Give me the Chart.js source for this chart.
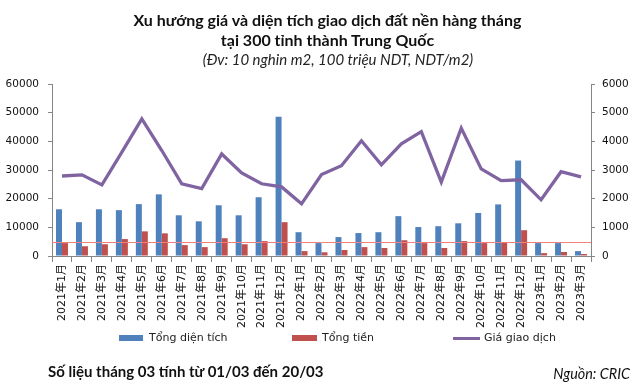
<!DOCTYPE html>
<html>
<head>
<meta charset="utf-8">
<script src="https://cdn.jsdelivr.net/npm/chart.js@4.4.1/dist/chart.umd.min.js"></script>
<style>
  html, body { margin: 0; padding: 0; background: #fff; }
  #wrap { position: relative; width: 643px; height: 386px; overflow: hidden; }
  canvas { position: absolute; left: 0; top: 0; }
  .txt { position: absolute; white-space: nowrap; color: #111; }
  .title { left: 0; width: 655px; text-align: center; font: bold 16px Lato, sans-serif; }
  .sub { left: 0; width: 676px; text-align: center; top: 50px; font: italic 15px Lato, sans-serif; color: #222; }
  .leg { position: absolute; top: 331px; font: 11px "DejaVu Sans", sans-serif; color: #222; }
  .leg i { position: absolute; top: 4px; }
</style>
</head>
<body>
<div id="wrap">
  <canvas id="c" width="643" height="386"></canvas>
  <div class="txt title" style="top:10px">Xu hướng giá và diện tích giao dịch đất nền hàng tháng</div>
  <div class="txt title" style="top:30px">tại 300 tỉnh thành Trung Quốc</div>
  <div class="txt sub">(Đv: 10 nghin m2, 100 triệu NDT, NDT/m2)</div>

  <div class="leg" style="left:119px"><i style="left:0;width:24px;height:6px;background:#4F81BD"></i><span style="margin-left:30px">Tổng diện tích</span></div>
  <div class="leg" style="left:292px"><i style="left:0;width:25px;height:6px;background:#C0504D"></i><span style="margin-left:30px">Tổng tiền</span></div>
  <div class="leg" style="left:453px"><i style="left:0;top:6px;width:27px;height:3px;background:#8064A2"></i><span style="margin-left:31px">Giá giao dịch</span></div>

  <div class="txt" style="left:48px;top:362px;font:bold 15px Lato, sans-serif">Số liệu tháng 03 tính từ 01/03 đến 20/03</div>
  <div class="txt" style="right:13px;top:365px;font:italic 14.4px Lato, sans-serif">Nguồn: CRIC</div>
</div>
<script>
const months = [
  '2021年1月','2021年2月','2021年3月','2021年4月','2021年5月','2021年6月',
  '2021年7月','2021年8月','2021年9月','2021年10月','2021年11月','2021年12月',
  '2022年1月','2022年2月','2022年3月','2022年4月','2022年5月','2022年6月',
  '2022年7月','2022年8月','2022年9月','2022年10月','2022年11月','2022年12月',
  '2023年1月','2023年2月','2023年3月'
];
// Tổng diện tích (10 nghìn m2)
const totalArea = [16300, 11800, 16300, 16000, 18100, 21500, 14200, 12100, 17700, 14200, 20500, 48600,
  8300, 4500, 6600, 8000, 8300, 13900, 10100, 10400, 11400, 15000, 18000, 33300, 4500, 4500, 1700];
// Tổng tiền (100 triệu NDT)
const totalMoney = [4500, 3400, 4100, 5900, 8600, 7900, 3800, 3100, 6200, 4100, 5200, 11800,
  1700, 1300, 2100, 3100, 2800, 5500, 4500, 2800, 5200, 4500, 4800, 9000, 1000, 1400, 700];
// Giá giao dịch (NDT/m2)
const avgPrice = [2790, 2830, 2480, 3620, 4780, 3680, 2520, 2350, 3560, 2900, 2520, 2410,
  1820, 2840, 3150, 4020, 3180, 3910, 4340, 2580, 4460, 3040, 2630, 2660, 1960, 2940, 2760];
const leftTicks = [0, 10000, 20000, 30000, 40000, 50000, 60000];
const rightTicks = [0, 1000, 2000, 3000, 4000, 5000, 6000];
const refLine = 4750;

const axisGrey = '#868686';
const tickFont = { family: 'DejaVu Sans', size: 10.5 };

// thin red reference line across the plot
const refLinePlugin = {
  id: 'refLine',
  afterDatasetsDraw(chart) {
    const { ctx, chartArea, scales } = chart;
    const y = Math.round(scales.y.getPixelForValue(refLine)) + 0.5;
    ctx.save();
    ctx.strokeStyle = '#F08080';
    ctx.lineWidth = 1;
    ctx.beginPath();
    ctx.moveTo(chartArea.left, y);
    ctx.lineTo(chartArea.right, y);
    ctx.stroke();
    ctx.restore();
  }
};

new Chart(document.getElementById('c'), {
  data: {
    labels: months,
    datasets: [
      { type: 'line', label: 'Giá giao dịch', data: avgPrice, yAxisID: 'y1',
        borderColor: '#8064A2', borderWidth: 3.3, pointRadius: 0, tension: 0, order: 0 },
      { type: 'bar', label: 'Tổng diện tích', data: totalArea, yAxisID: 'y',
        backgroundColor: '#4F81BD', categoryPercentage: 0.6, barPercentage: 1.0, order: 2 },
      { type: 'bar', label: 'Tổng tiền', data: totalMoney, yAxisID: 'y',
        backgroundColor: '#C0504D', categoryPercentage: 0.6, barPercentage: 1.0, order: 2 }
    ]
  },
  options: {
    responsive: false,
    animation: false,
    layout: { padding: { top: 84, left: 0, right: 0, bottom: 52 } },
    plugins: { legend: { display: false }, tooltip: { enabled: false } },
    scales: {
      x: {
        offset: true,
        grid: { offset: true, drawOnChartArea: false, color: axisGrey, tickLength: 6 },
        border: { color: axisGrey },
        ticks: { color: '#111', font: { family: 'DejaVu Sans, Noto Sans CJK SC', size: 11 },
          minRotation: 90, maxRotation: 90, autoSkip: false, padding: 2 },
        afterFit(s) { s.height = 78; }
      },
      y: {
        position: 'left', min: 0, max: 60000,
        afterBuildTicks(s) { s.ticks = leftTicks.map(v => ({ value: v })); },
        grid: { drawOnChartArea: false, color: axisGrey, tickLength: 4 },
        border: { color: axisGrey },
        ticks: { color: '#111', font: tickFont, padding: 9, callback: v => String(v) },
        afterFit(s) { s.width = 52; }
      },
      y1: {
        position: 'right', min: 0, max: 6000,
        afterBuildTicks(s) { s.ticks = rightTicks.map(v => ({ value: v })); },
        grid: { drawOnChartArea: false, color: axisGrey, tickLength: 4 },
        border: { color: axisGrey },
        ticks: { color: '#111', font: tickFont, padding: 7, callback: v => String(v) },
        afterFit(s) { s.width = 52; }
      }
    }
  },
  plugins: [refLinePlugin]
});
</script>
</body>
</html>
